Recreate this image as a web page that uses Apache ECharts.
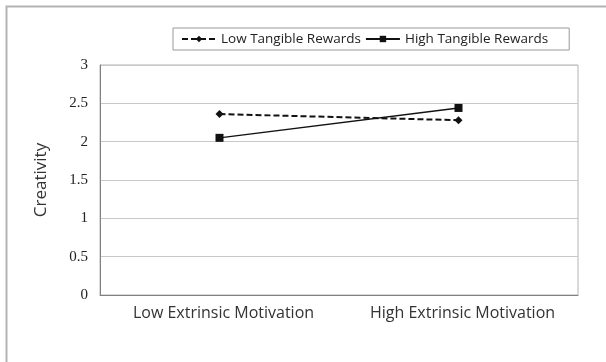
<!DOCTYPE html>
<html>
<head>
<meta charset="utf-8">
<script src="https://cdn.jsdelivr.net/npm/echarts@6/dist/echarts.min.js"></script>
<style>
  html, body { margin: 0; padding: 0; background: #fff; }
  #chart { width: 606px; height: 362px; }
</style>
</head>
<body>
<div id="chart"></div>
<script>
// data
const categories = ["Low Extrinsic Motivation", "High Extrinsic Motivation"];
const lowRewards = [2.36, 2.28];
const highRewards = [2.05, 2.44];
const seriesNames = ["Low Tangible Rewards", "High Tangible Rewards"];

let chart = echarts.init(document.getElementById("chart"));

chart.setOption({
  animation: false,
  backgroundColor: "#fff",
  graphic: [
    {
      // outer frame, only top and left edges show
      type: "rect",
      shape: { x: 6.5, y: 6.5, width: 700, height: 500 },
      style: { fill: null, stroke: "#b4b4b4", lineWidth: 2 },
      silent: true,
    },
  ],
  legend: {
    top: 28,
    left: 173,
    itemWidth: 34,
    itemHeight: 8,
    itemGap: 4,
    padding: [4, 21, 4, 8],
    borderColor: "#999",
    borderWidth: 1,
    borderRadius: 0,
    textStyle: { fontFamily: "Open Sans", fontSize: 13.5, color: "#222" },
    data: seriesNames,
  },
  grid: {
    left: 100,
    right: 28,
    top: 65,
    bottom: 67,
    show: true,
    borderColor: "#b4b4b4",
    borderWidth: 1,
  },
  xAxis: {
    type: "category",
    data: categories,
    boundaryGap: true,
    axisLine: { lineStyle: { color: "#808080", width: 1 } },
    axisTick: { show: false },
    axisLabel: {
      interval: 0,
      margin: 10,
      fontFamily: "Open Sans",
      fontSize: 16,
      color: "#333",
      padding: [0, 0, 0, 8],
    },
  },
  yAxis: {
    type: "value",
    min: 0,
    max: 3,
    interval: 0.5,
    name: "Creativity",
    nameLocation: "middle",
    nameGap: 50,
    nameTextStyle: { fontFamily: "Open Sans", fontSize: 17, color: "#333" },
    axisLine: { show: true, lineStyle: { color: "#808080", width: 1 } },
    axisTick: { show: false },
    axisLabel: {
      margin: 12,
      fontFamily: "Liberation Serif",
      fontSize: 15,
      color: "#222",
    },
    splitLine: { lineStyle: { color: "#c8c8c8", width: 1 } },
  },
  series: [
    {
      name: seriesNames[0],
      type: "line",
      data: lowRewards,
      symbol: "diamond",
      symbolSize: 8,
      lineStyle: { color: "#111", width: 2, type: [6, 3] },
      itemStyle: { color: "#111" },
    },
    {
      name: seriesNames[1],
      type: "line",
      data: highRewards,
      symbol: "rect",
      symbolSize: 8,
      lineStyle: { color: "#111", width: 1.4, type: "solid" },
      itemStyle: { color: "#111" },
    },
  ],
});
</script>
</body>
</html>
